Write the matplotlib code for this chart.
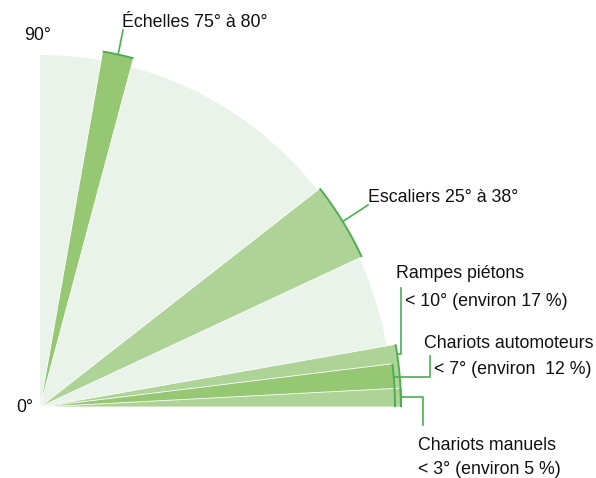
"""Plages d'inclinaison usuelles (0° à 90°) : échelles, escaliers, rampes, chariots."""
import numpy as np
import matplotlib; matplotlib.use("Agg")
import matplotlib.pyplot as plt
from matplotlib.patches import Wedge

plt.rcParams["font.family"] = ["Liberation Sans", "DejaVu Sans"]

# secteurs : angle bas / haut (degrés)
CATS = ["Échelles", "Escaliers", "Rampes piétons", "Chariots automoteurs", "Chariots manuels"]
THETA_LO = [75, 25, 0, 0, 0]
THETA_HI = [80, 38, 10, 7, 3]
LINE1 = ["Échelles 75° à 80°", "Escaliers 25° à 38°", "Rampes piétons",
         "Chariots automoteurs", "Chariots manuels"]
LINE2 = ["", "", "< 10° (environ 17 %)", "< 7° (environ  12 %)", "< 3° (environ 5 %)"]

BG, LIGHT, MID, LINE = "#e9f3e9", "#aed396", "#96c773", "#4caf50"
RAD = {"Échelles": 361, "Escaliers": 355, "Rampes piétons": 361,
       "Chariots automoteurs": 355, "Chariots manuels": 361}
COL = {"Échelles": MID, "Escaliers": LIGHT, "Rampes piétons": LIGHT,
       "Chariots automoteurs": MID, "Chariots manuels": LIGHT}

fig = plt.figure(figsize=(5.96, 4.78), dpi=100)
ax = fig.add_axes([0, 0, 1, 1])
ax.set_xlim(-40, 556); ax.set_ylim(-71, 407)
ax.set_aspect("equal"); ax.axis("off")

# quart de cercle de fond
ax.add_patch(Wedge((0, 0), 352, 0, 90, facecolor=BG, edgecolor="none", zorder=1))

for i, c in enumerate(CATS):
    r = RAD[c]
    ax.add_patch(Wedge((0, 0), r, THETA_LO[i], THETA_HI[i], facecolor=COL[c],
                       edgecolor="white", lw=0.6, zorder=2 + i))
    t = np.radians(np.linspace(THETA_LO[i], THETA_HI[i], 40))
    ax.plot(r * np.cos(t), r * np.sin(t), color=LINE, lw=1.4, zorder=8,
            solid_capstyle="butt")

def pol(r, a):
    a = np.radians(a)
    return r * np.cos(a), r * np.sin(a)

# traits de rappel + étiquettes
tk = dict(fontsize=12.8, color="#111111", zorder=10, va="center", ha="left")
lk = dict(color=LINE, lw=1.2, zorder=9)

x0, y0 = pol(361, 77.5)
ax.plot([x0, 83], [y0, 377], **lk)
ax.text(82, 385, LINE1[0], **tk)

x0, y0 = pol(355, 31.5)
ax.plot([x0, 328], [y0, 202], **lk)
ax.text(328, 210, LINE1[1], **tk)

x0, y0 = pol(361, 8.5)
ax.plot([x0, 361, 361], [y0, y0, 119], **lk)
ax.text(356, 133, LINE1[2], **tk)
ax.text(365, 106, LINE2[2], **tk)

x0, y0 = pol(355, 4.85)
ax.plot([x0, 390, 390], [y0, y0, 51], **lk)
ax.text(384, 64, LINE1[3], **tk)
ax.text(394, 38, LINE2[3], **tk)

x0, y0 = pol(361, 1.6)
ax.plot([x0, 383, 383], [y0, y0, -18], **lk)
ax.text(378, -38, LINE1[4], **tk)
ax.text(378, -63, LINE2[4], **tk)

ax.text(-2, 372, "90°", ha="center", va="center", fontsize=12.8, color="#111111")
ax.text(-15, 0, "0°", ha="center", va="center", fontsize=12.8, color="#111111")

fig.savefig("out.png", dpi=100, facecolor="white")
